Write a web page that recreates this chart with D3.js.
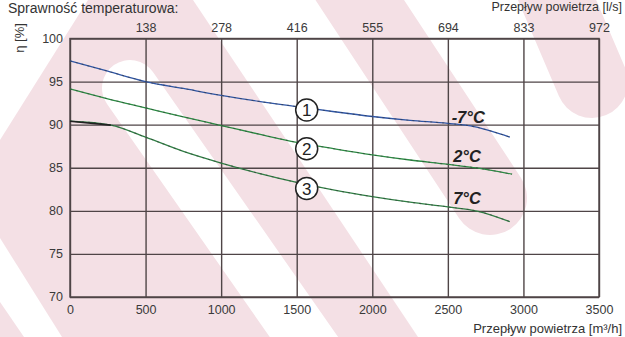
<!DOCTYPE html>
<html>
<head>
<meta charset="utf-8">
<script src="https://cdn.jsdelivr.net/npm/d3@7"></script>
<style>
  body { margin: 0; background: #fff; }
  text { font-family: "Liberation Sans", Arial, sans-serif; }
</style>
</head>
<body>
<div id="chart"></div>
<script>
// flow in m3/h, efficiency in %
var flowTicks = [0, 500, 1000, 1500, 2000, 2500, 3000, 3500]
var etaTicks = [70, 75, 80, 85, 90, 95, 100]
var lsTicks = ['138', '278', '416', '555', '694', '833', '972']

var minus7 = [[0, 97.4], [250, 96.2], [500, 95.0], [750, 94.2], [1000, 93.4], [1250, 92.7], [1500, 92.1],
  [1750, 91.5], [2000, 90.95], [2250, 90.5], [2500, 90.15], [2650, 89.85], [2910, 88.55]]
var plus2 = [[0, 94.15], [250, 93.0], [500, 91.95], [750, 90.9], [1000, 89.9], [1250, 88.9], [1500, 87.95],
  [1750, 87.2], [2000, 86.5], [2250, 85.9], [2500, 85.4], [2700, 84.95], [2925, 84.25]]
var plus7 = [[0, 90.4], [270, 89.95], [500, 88.55], [750, 86.9], [1000, 85.55], [1250, 84.35], [1500, 83.3],
  [1750, 82.4], [2000, 81.65], [2250, 81.0], [2500, 80.45], [2700, 79.95], [2910, 78.75]]

var seriesNames = ['-7°C', '2°C', '7°C']
var seriesNums = ['1', '2', '3']
var numPos = [[1566, 91.7], [1566, 87.2], [1566, 82.6]]
var labelPos = [[2525, 90.2], [2535, 85.65], [2535, 80.75]]

var width = 625, height = 337
var margin = {top: 38.5, right: 26, bottom: 40, left: 70}
var pw = width - margin.left - margin.right,
    ph = height - margin.top - margin.bottom

var svg = d3.select('#chart').append('svg')
  .attr('width', width)
  .attr('height', height)

// watermark in the background
var pink = '#f4e0e5'
var wm = svg.append('g')
wm.append('polygon')
  .attr('points', '88,0 193,0 418,337 62,337 0,238 0,140')
  .attr('fill', pink)
wm.append('polygon')
  .attr('points', '0,302 0,337 24,337')
  .attr('fill', pink)
wm.append('line')
  .attr('x1', 130).attr('y1', 88).attr('x2', 320).attr('y2', 360)
  .attr('stroke', '#fff').attr('stroke-width', 56).attr('stroke-linecap', 'round')
wm.append('line')
  .attr('x1', 340).attr('y1', -30).attr('x2', 490).attr('y2', 198)
  .attr('stroke', pink).attr('stroke-width', 74).attr('stroke-linecap', 'round')
wm.append('line')
  .attr('x1', 540).attr('y1', -40).attr('x2', 592).attr('y2', 82)
  .attr('stroke', pink).attr('stroke-width', 72).attr('stroke-linecap', 'round')

var g = svg.append('g')
  .attr('transform', 'translate(' + margin.left + ',' + margin.top + ')')

var x = d3.scaleLinear().domain([0, 3500]).range([0, pw])
var y = d3.scaleLinear().domain([70, 100]).range([ph, 0])

var gridColor = '#4f4547'

// vertical grid + bottom labels
g.append('g')
  .attr('class', 'xaxis')
  .attr('transform', 'translate(0,' + ph + ')')
  .call(d3.axisBottom(x).tickValues(flowTicks).tickSize(-ph).tickPadding(8).tickFormat(d3.format('d')))

// top axis in l/s, same grid positions
g.append('g')
  .attr('class', 'xtop')
  .call(d3.axisTop(x).tickValues(flowTicks.slice(1)).tickSize(0).tickPadding(7)
    .tickFormat(function(d, i) { return lsTicks[i] }))

// horizontal grid + left labels
g.append('g')
  .attr('class', 'yaxis')
  .call(d3.axisLeft(y).tickValues(etaTicks).tickSize(-pw).tickPadding(7))

g.selectAll('.tick line')
  .style('stroke', gridColor)
  .style('stroke-width', '1.4px')
g.selectAll('path.domain').style('stroke', 'none')
g.selectAll('.tick text')
  .style('fill', '#3a3a3a')
  .style('font-size', '12.5px')
  .style('font-family', '"Liberation Sans", Arial, sans-serif')
g.selectAll('.yaxis .tick text').attr('dy', '0.3em')

g.append('rect')
  .attr('width', pw).attr('height', ph)
  .attr('fill', 'none')
  .attr('stroke', gridColor)
  .attr('stroke-width', 1.4)

var line = d3.line()
  .curve(d3.curveMonotoneX)
  .x(function(d) { return x(d[0]) })
  .y(function(d) { return y(d[1]) })

var colors = ['#2f56a6', '#2b8c43', '#2f7f44']
var allSeries = [minus7, plus2, plus7]
allSeries.forEach(function(s, i) {
  g.append('path')
    .datum(s)
    .attr('d', line)
    .attr('fill', 'none')
    .style('stroke', colors[i])
    .style('stroke-width', '1.3px')
  g.append('path')
    .datum(s)
    .attr('d', line)
    .attr('fill', 'none')
    .style('stroke', '#333')
    .style('stroke-width', '1.1px')
    .style('stroke-dasharray', '2 4')
    .style('opacity', 0.5)
})

// darker start of the 7°C curve
g.append('path')
  .datum(plus7.filter(function(d) { return d[0] <= 270 }))
  .attr('d', line)
  .attr('fill', 'none')
  .style('stroke', '#222')
  .style('stroke-width', '1.6px')

// numbered circles
numPos.forEach(function(p, i) {
  g.append('circle')
    .attr('cx', x(p[0])).attr('cy', y(p[1]))
    .attr('r', 11)
    .attr('fill', '#fff')
    .attr('stroke', '#222')
    .attr('stroke-width', 1.5)
  g.append('text')
    .attr('x', x(p[0])).attr('y', y(p[1]))
    .attr('dy', '0.36em')
    .attr('text-anchor', 'middle')
    .style('font-size', '17px')
    .style('fill', '#222')
    .text(seriesNums[i])
})

// temperature labels
labelPos.forEach(function(p, i) {
  g.append('text')
    .attr('x', x(p[0])).attr('y', y(p[1]))
    .style('font-size', '16.5px')
    .style('font-weight', 'bold')
    .style('font-style', 'italic')
    .style('fill', '#222')
    .text(seriesNames[i])
})

// titles
svg.append('text')
  .attr('x', 8).attr('y', 13)
  .style('font-size', '14px')
  .style('fill', '#333')
  .text('Sprawność temperaturowa:')

svg.append('text')
  .attr('x', 622).attr('y', 11)
  .attr('text-anchor', 'end')
  .style('font-size', '12.5px')
  .style('fill', '#333')
  .text('Przepływ powietrza  [l/s]')

svg.append('text')
  .attr('x', 622).attr('y', 333)
  .attr('text-anchor', 'end')
  .style('font-size', '13px')
  .style('fill', '#333')
  .text('Przepływ powietrza  [m³/h]')

svg.append('text')
  .attr('transform', 'translate(24,38) rotate(-90)')
  .attr('text-anchor', 'middle')
  .style('font-size', '13px')
  .style('fill', '#333')
  .text('η [%]')
</script>
</body>
</html>
